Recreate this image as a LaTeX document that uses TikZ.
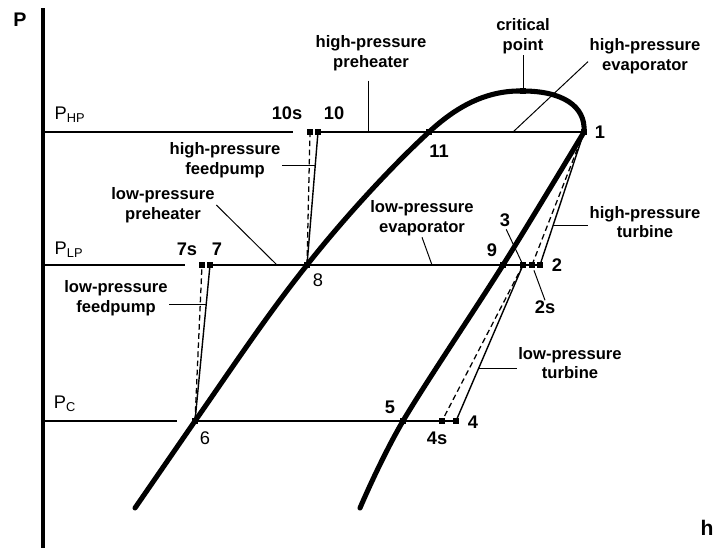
\documentclass[tikz,border=0pt]{standalone}
\usepackage{fontspec}
\setmainfont{Liberation Sans}
\usetikzlibrary{calc}

\tikzset{
  dome/.style={line width=3.6pt, line cap=round, line join=round},
  procline/.style={line width=1.6pt},
  refline/.style={line width=0.9pt},
  expline/.style={line width=1pt},
  expdash/.style={line width=0.9pt, dash pattern=on 4pt off 2.5pt},
  leader/.style={line width=0.7pt},
  statept/.style={fill, rectangle, minimum size=3.6pt, inner sep=0pt},
  lbl/.style={font=\fontsize{11.8}{14}\selectfont\bfseries, align=center, inner sep=1pt},
  num/.style={font=\fontsize{13}{15}\selectfont\bfseries, inner sep=0pt},
  numreg/.style={font=\fontsize{13}{15}\selectfont, inner sep=0pt},
}

\begin{document}
\begin{tikzpicture}[x=0.025cm, y=-0.025cm]
\useasboundingbox (0,0) rectangle (717,548);

% axis
\draw[line width=2.8pt] (43,8) -- (43,548);
\node[font=\fontsize{14}{16}\selectfont\bfseries] (axP) at (20,20) {P};
\node[font=\fontsize{15}{17}\selectfont\bfseries] (axh) at (707,528) {h};

% state points
\coordinate (p1) at (584,132);
\coordinate (cp) at (523,91);
\coordinate (p11) at (429,132);
\coordinate (p10) at (318,132);
\coordinate (p10s) at (310,132);
\coordinate (p7) at (210,265);
\coordinate (p7s) at (202,265);
\coordinate (p8) at (307,265);
\coordinate (p9) at (503,265);
\coordinate (p3) at (523,265);
\coordinate (p2s) at (532,265);
\coordinate (p2) at (540,265);
\coordinate (p6) at (195,421);
\coordinate (p5) at (403,421);
\coordinate (p4s) at (442,421);
\coordinate (p4) at (456,421);
\coordinate (liqEnd) at (135,508);
\coordinate (vapEnd) at (360,508);

% pressure levels
\coordinate (axHP) at (43,132);
\coordinate (axLP) at (43,265);
\coordinate (axC) at (43,421);
\coordinate (hpStop) at (293,132);
\coordinate (lpStop) at (185,265);
\coordinate (cStop) at (177,421);
\draw[refline] (axHP) -- (hpStop);
\draw[refline] (axLP) -- (lpStop);
\draw[refline] (axC) -- (cStop);
\node[numreg] (lPHP) at (70,115) {P\textsubscript{HP}};
\node[numreg] (lPLP) at (69,250) {P\textsubscript{LP}};
\node[numreg] (lPC) at (65,404) {P\textsubscript{C}};

% saturation dome
\draw[dome] (liqEnd) -- (p6) .. controls (232,368) and (267,315) .. (p8)
  .. controls (344,218) and (392,166) .. (p11)
  .. controls (455,108) and (485,90) .. (cp)
  .. controls (562,91) and (586,106) .. (p1);
\draw[dome] plot[smooth, tension=0.55] coordinates {(p1) (p9) (p5) (vapEnd)};

% heat addition / condensation
\draw[procline] (p10) -- (p1);
\draw[procline] (p7) -- (p2);
\draw[procline] (p6) -- (p4);

% pumps
\draw[expline] (p6) -- (p7);
\draw[expdash] (p6) -- (p7s);
\draw[expline] (p8) -- (p10);
\draw[expdash] (p8) -- (p10s);

% turbines
\draw[expline] (p1) -- (p2);
\draw[expdash] (p1) -- (p2s);
\draw[expline] (p3) -- (p4);
\draw[expdash] (p3) -- (p4s);

\foreach \p in {p1,cp,p11,p10,p10s,p7,p7s,p8,p9,p3,p2s,p2,p6,p5,p4s,p4}
  \node[statept] (m-\p) at (\p) {};

% state numbers
\node[num] (n1) at (600,132) {1};
\node[num] (n11) at (439,151) {11};
\node[num] (n10s) at (287,113) {10s};
\node[num] (n10) at (334,113) {10};
\node[num] (n7s) at (187,249) {7s};
\node[num] (n7) at (217,249) {7};
\node[numreg] (n8) at (318,280) {8};
\node[num] (n9) at (492,250) {9};
\node[num] (n3) at (505,220) {3};
\node[num] (n2) at (557,265) {2};
\node[num] (n2s) at (545,307) {2s};
\node[num] (n5) at (390,407) {5};
\node[num] (n4) at (473,422) {4};
\node[num] (n4s) at (437,438) {4s};
\node[numreg] (n6) at (205,438) {6};
\draw[leader, shorten <=2pt] (n3.south) -- (p3);
\draw[leader, shorten >=4pt] (n2s.north) -- (p2s);

% component labels
\node[lbl] (lCrit) at (523,36) {critical\\point};
\draw[leader] (lCrit.south) -- (cp);

\node[lbl] (lHPpre) at (371,53) {high-pressure\\preheater};
\coordinate (hpPre) at (368,132);
\draw[leader, shorten <=6pt] (lHPpre.south -| hpPre) -- (hpPre);

\node[lbl] (lHPevap) at (645,56) {high-pressure\\evaporator};
\coordinate (hpEv) at (513,132);
\draw[leader] ([yshift=-4pt]lHPevap.west) -- (hpEv);

\node[lbl] (lHPfp) at (225,160) {high-pressure\\feedpump};
\coordinate (hpfp) at ($(p8)!0.75!(p10)$);
\draw[leader] (lHPfp.east |- hpfp) -- (hpfp);

\node[lbl] (lLPpre) at (163,205) {low-pressure\\preheater};
\coordinate (lpPre) at (277,265);
\draw[leader] (lLPpre.east) -- (lpPre);

\node[lbl] (lLPevap) at (422,218) {low-pressure\\evaporator};
\coordinate (lpEv) at (432,265);
\draw[leader] (lLPevap.south) -- (lpEv);

\node[lbl] (lHPturb) at (645,222) {high-pressure\\turbine};
\coordinate (hpt) at ($(p1)!0.705!(p2)$);
\draw[leader] (lHPturb.west |- hpt) -- (hpt);

\node[lbl] (lLPfp) at (116,298) {low-pressure\\feedpump};
\coordinate (lpfp) at ($(p6)!0.75!(p7)$);
\draw[leader] (lLPfp.east |- lpfp) -- (lpfp);

\node[lbl] (lLPturb) at (570,363) {low-pressure\\turbine};
\coordinate (lpt) at ($(p3)!0.665!(p4)$);
\draw[leader] (lLPturb.west |- lpt) -- (lpt);
\end{tikzpicture}
\end{document}
